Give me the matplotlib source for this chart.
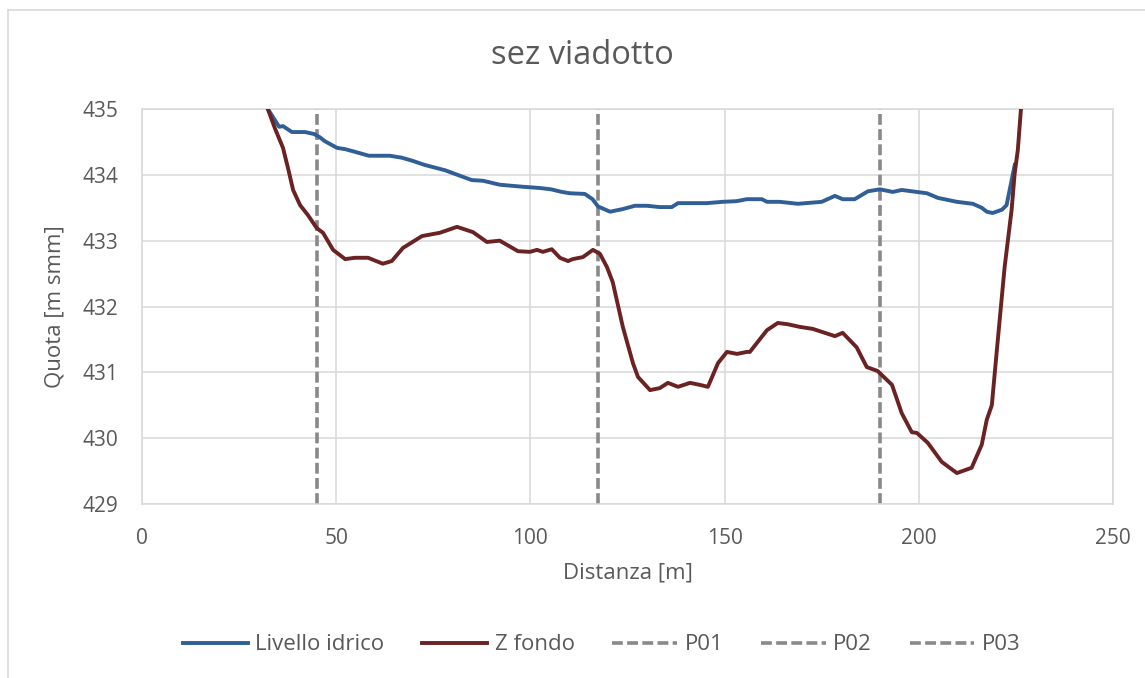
import matplotlib
matplotlib.use("Agg")
from matplotlib import pyplot as plt
from matplotlib.lines import Line2D

# livello idrico (distanza [m], quota [m smm])
liv_x = [32.4, 35.3, 36.3, 38.6, 42.0, 44.3, 45.8, 47.1, 50.2, 52.3, 54.8, 58.4,
         63.8, 66.9, 69.8, 72.8, 78.0, 84.9, 87.8, 92.1, 97.8, 102.4, 105.3, 108.1,
         110.2, 114.0, 116.0, 117.4, 120.5, 123.8, 126.9, 130.0, 133.3, 136.4, 138.0,
         140.3, 145.4, 149.5, 153.1, 155.7, 159.6, 160.9, 164.2, 168.9, 175.0, 178.4,
         180.4, 183.5, 186.9, 190.0, 193.3, 195.6, 198.2, 202.1, 204.9, 209.8, 213.9,
         216.2, 217.5, 219.0, 221.4, 222.6, 224.7]
liv_y = [435.0, 434.73, 434.74, 434.65, 434.65, 434.62, 434.57, 434.51, 434.41, 434.39,
         434.35, 434.29, 434.29, 434.26, 434.21, 434.15, 434.07, 433.92, 433.91, 433.85,
         433.82, 433.80, 433.78, 433.74, 433.72, 433.71, 433.63, 433.52, 433.44, 433.48,
         433.53, 433.53, 433.51, 433.51, 433.57, 433.57, 433.57, 433.59, 433.60, 433.63,
         433.63, 433.59, 433.59, 433.56, 433.59, 433.68, 433.63, 433.63, 433.75, 433.78,
         433.74, 433.77, 433.75, 433.72, 433.65, 433.59, 433.56, 433.50, 433.44, 433.42,
         433.47, 433.54, 434.15]

# z fondo
fondo_x = [32.4, 34.2, 36.3, 37.6, 38.9, 40.7, 42.7, 45.0, 46.6, 49.2, 52.3, 54.8,
           58.2, 62.0, 64.3, 67.2, 72.1, 76.7, 81.1, 85.2, 88.8, 92.1, 96.8, 99.9,
           101.7, 103.2, 105.5, 107.6, 109.7, 110.9, 113.5, 116.1, 117.9, 119.7, 121.2,
           123.8, 126.4, 127.7, 130.8, 133.3, 135.4, 138.0, 141.1, 143.6, 145.7, 148.3,
           150.6, 153.2, 155.7, 156.5, 160.9, 163.7, 166.3, 169.4, 172.7, 175.8, 178.4,
           180.4, 184.0, 186.6, 189.4, 193.1, 195.6, 198.2, 199.5, 202.3, 205.9, 209.8,
           213.6, 216.2, 217.5, 218.8, 220.1, 222.1, 223.9, 224.7, 225.5, 226.3]
fondo_y = [435.0, 434.71, 434.41, 434.10, 433.77, 433.54, 433.39, 433.19, 433.12, 432.86,
           432.72, 432.74, 432.74, 432.65, 432.69, 432.89, 433.07, 433.12, 433.21, 433.13,
           432.98, 433.00, 432.84, 432.83, 432.86, 432.83, 432.87, 432.74, 432.69, 432.72,
           432.75, 432.86, 432.80, 432.60, 432.37, 431.69, 431.14, 430.93, 430.73, 430.76,
           430.84, 430.78, 430.84, 430.81, 430.78, 431.14, 431.31, 431.28, 431.31, 431.31,
           431.64, 431.75, 431.73, 431.69, 431.66, 431.60, 431.55, 431.60, 431.38, 431.08,
           431.02, 430.81, 430.38, 430.09, 430.08, 429.93, 429.64, 429.47, 429.55, 429.90,
           430.28, 430.50, 431.34, 432.60, 433.47, 434.03, 434.38, 435.0]

# pile
pile_names = ["P01", "P02", "P03"]
pile_x = [45.0, 117.5, 190.0]

x_ticks = [0, 50, 100, 150, 200, 250]
y_ticks = [429, 430, 431, 432, 433, 434, 435]

txt = "#595959"
grid = "#D9D9D9"
plt.rcParams["font.family"] = ["Open Sans", "DejaVu Sans"]

fig = plt.figure(figsize=(11.45, 6.78), dpi=100)
ax = fig.add_axes([142 / 1145, 1 - 504 / 678, (1113 - 142) / 1145, (504 - 109) / 678])

ax.plot(liv_x, liv_y, color="#2F5F96", lw=2.8, label="Livello idrico", zorder=3,
        solid_joinstyle="round")
ax.plot(fondo_x, fondo_y, color="#6A2222", lw=2.8, label="Z fondo", zorder=3,
        solid_joinstyle="round")
for name, px in zip(pile_names, pile_x):
    ax.axvline(px, color="#898989", lw=2.6, dashes=(3.0, 1.2), label=name, zorder=2)

ax.set_xlim(0, 250)
ax.set_ylim(429, 435)
ax.set_xticks(x_ticks)
ax.set_yticks(y_ticks)
ax.grid(True, color=grid, lw=1.1)
ax.set_axisbelow(True)
for s in ax.spines.values():
    s.set_color(grid)
    s.set_linewidth(1.1)
ax.tick_params(length=0, labelsize=15, colors=txt, pad=17)

ax.set_xlabel("Distanza [m]", fontsize=16, color=txt, labelpad=10)
ax.set_ylabel("Quota [m smm]", fontsize=16, color=txt, labelpad=12)
fig.text(582 / 1145, 1 - 55 / 678, "sez viadotto", fontsize=23.5, color=txt,
         ha="center", va="center")

leg = fig.legend(loc="center", bbox_to_anchor=(602 / 1145, 1 - 645 / 678), ncol=5,
                 frameon=False, fontsize=16, handlelength=2.9, columnspacing=1.7,
                 handletextpad=0.35, labelcolor=txt)

# bordo area grafico
fig.add_artist(Line2D([8 / 1145, 8 / 1145], [0, 1 - 10 / 678], color=grid, lw=1.2))
fig.add_artist(Line2D([8 / 1145, 1], [1 - 10 / 678, 1 - 10 / 678], color=grid, lw=1.2))

fig.savefig("out.png", dpi=100)
